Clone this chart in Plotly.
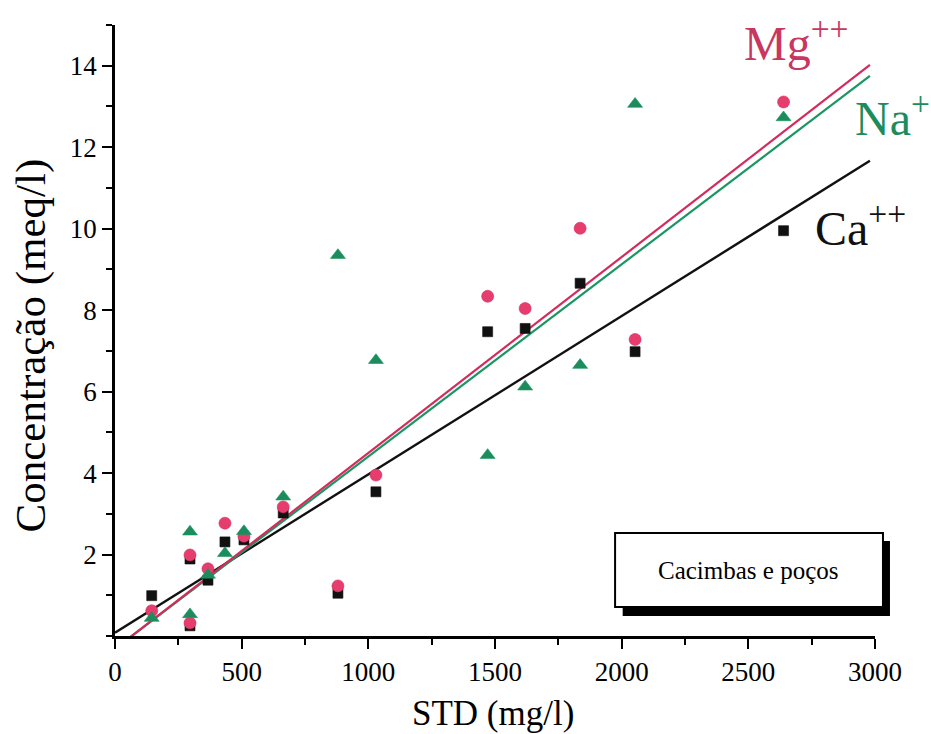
import plotly.graph_objects as go

# Total dissolved solids (STD, mg/l) for each well / cacimba
std = [145, 296, 296, 367, 434, 509, 664, 880, 1030, 1471, 1619, 1836, 2053, 2639]

# Ion concentrations (meq/l)
ca = [0.99, 1.89, 0.25, 1.37, 2.31, 2.36, 3.02, 1.05, 3.54, 7.47, 7.55, 8.66, 6.98, 9.95]
mg = [0.62, 1.99, 0.32, 1.65, 2.77, 2.45, 3.17, 1.23, 3.95, 8.34, 8.04, 10.01, 7.28, 13.11]
na = [0.44, 2.56, 0.53, 1.50, 2.03, 2.57, 3.42, 9.35, 6.77, 4.44, 6.12, 6.65, 13.06, 12.73]

# Published linear trends (conc = slope * STD + intercept), order: Ca, Mg, Na
fit_slope = [0.003888, 0.004811, 0.004718]
fit_intercept = [0.08, -0.318, -0.311]
fit_std_span = [0, 2980]

x_ticks = [0, 500, 1000, 1500, 2000, 2500, 3000]
y_ticks = [2, 4, 6, 8, 10, 12, 14]
x_range = [0, 3000]
y_range = [0, 15]

FONT = "Liberation Serif, Times New Roman, serif"
BLACK = "#111111"
PINK = "#e63d6e"
PINK_LINE = "#d42b5c"
PINK_TEXT = "#c8375f"
GREEN = "#1d8c5c"
GREEN_LINE = "#1a9662"

fig = go.Figure()

series = [
    ("Ca++", ca, "square", BLACK, BLACK, 10),
    ("Mg++", mg, "circle", PINK, PINK_LINE, 12),
    ("Na+", na, "triangle-up", GREEN, GREEN_LINE, 13),
]

# trend lines (Na drawn first so Mg sits on top where they touch)
for idx in (0, 2, 1):
    name, vals, sym, mcol, lcol, size = series[idx]
    xs = fit_std_span
    ys = [fit_slope[idx] * v + fit_intercept[idx] for v in xs]
    fig.add_trace(go.Scatter(
        x=xs, y=ys, mode="lines",
        line=dict(color=lcol, width=2.4 if idx == 0 else 2.2),
        showlegend=False, hoverinfo="skip"))

for name, vals, sym, mcol, lcol, size in series:
    fig.add_trace(go.Scatter(
        x=std, y=vals, mode="markers", name=name,
        marker=dict(symbol=sym, size=size, color=mcol,
                    line=dict(width=0.6, color=lcol)),
        showlegend=False, cliponaxis=False))

axis_common = dict(
    showgrid=False, zeroline=False, showline=True, linecolor="black",
    linewidth=2.5, ticks="outside", tickcolor="black", tickwidth=2,
    ticklen=10, mirror=False,
)

fig.update_xaxes(
    range=x_range, tickvals=x_ticks, ticktext=[str(v) for v in x_ticks],
    tickfont=dict(family=FONT, size=27, color="black"),
    minor=dict(dtick=250, tick0=0, ticks="outside", ticklen=6,
               tickcolor="black", tickwidth=2),
    **axis_common)
fig.update_yaxes(
    range=y_range, tickvals=y_ticks, ticktext=[str(v) for v in y_ticks],
    tickfont=dict(family=FONT, size=27, color="black"),
    minor=dict(dtick=1, tick0=0, ticks="outside", ticklen=6,
               tickcolor="black", tickwidth=2),
    **axis_common)

annotations = [
    # axis titles
    dict(text="STD (mg/l)", x=0.497, y=-0.127, xref="paper", yref="paper",
         showarrow=False, font=dict(family=FONT, size=35, color="black"),
         xanchor="center", yanchor="middle"),
    dict(text="Concentração (meq/l)", x=-0.111, y=0.475, xref="paper",
         yref="paper", showarrow=False, textangle=-90,
         font=dict(family=FONT, size=43, color="black"),
         xanchor="center", yanchor="middle"),
    # ion labels next to the trend lines
    dict(text="Mg<sup>++</sup>", x=2475, y=14.62, xref="x", yref="y",
         showarrow=False, font=dict(family=FONT, size=48, color=PINK_TEXT),
         xanchor="left", yanchor="middle"),
    dict(text="Na<sup>+</sup>", x=2915, y=12.78, xref="x", yref="y",
         showarrow=False, font=dict(family=FONT, size=48, color=GREEN),
         xanchor="left", yanchor="middle"),
    dict(text="Ca<sup>++</sup>", x=2755, y=10.08, xref="x", yref="y",
         showarrow=False, font=dict(family=FONT, size=48, color=BLACK),
         xanchor="left", yanchor="middle"),
    # boxed caption
    dict(text="Cacimbas e poços", x=0.834, y=0.108, xref="paper",
         yref="paper", showarrow=False,
         font=dict(family=FONT, size=25, color="black"),
         xanchor="center", yanchor="middle"),
]

shapes = [
    dict(type="rect", xref="paper", yref="paper", x0=0.668, x1=1.0197,
         y0=0.0327, y1=0.1555, fillcolor="black", line=dict(width=0),
         layer="above"),
    dict(type="rect", xref="paper", yref="paper", x0=0.658, x1=1.0105,
         y0=0.0475, y1=0.1686, fillcolor="white",
         line=dict(color="black", width=2), layer="above"),
]

fig.update_layout(
    width=931, height=734,
    margin=dict(l=115, r=56, t=25, b=98),
    paper_bgcolor="white", plot_bgcolor="white",
    annotations=annotations, shapes=shapes,
    font=dict(family=FONT, color="black"),
)

fig.write_html("out.html")
